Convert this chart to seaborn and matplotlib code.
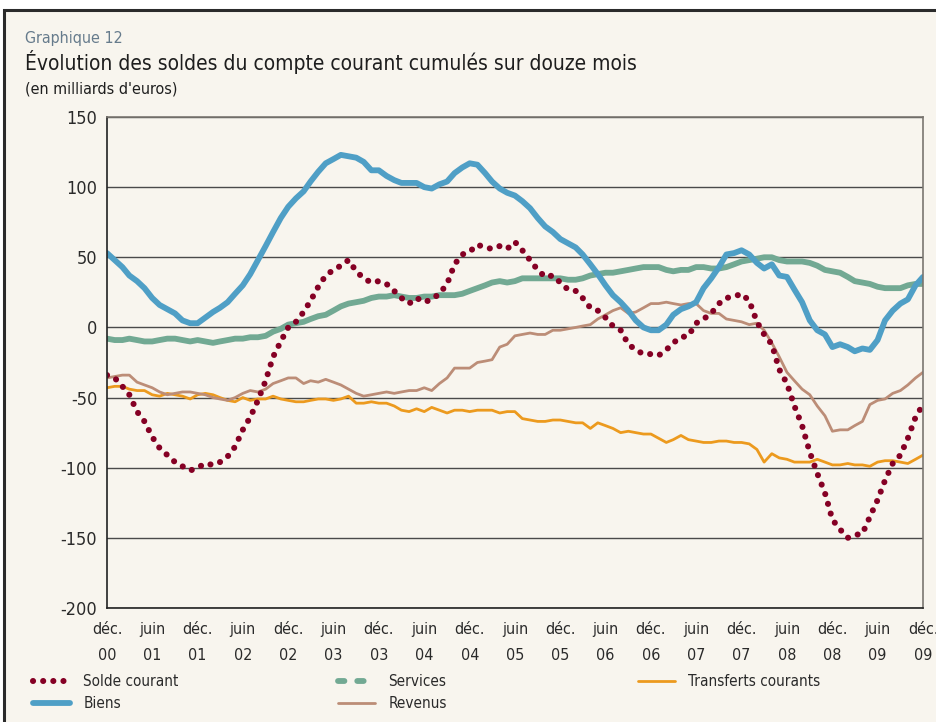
import numpy as np
import pandas as pd
import matplotlib
matplotlib.use('Agg')
import matplotlib.pyplot as plt
from matplotlib.lines import Line2D
from matplotlib.patches import Rectangle
import seaborn as sns

# monthly values, Dec 2000 -> Dec 2009 (billions of euros)
months = pd.date_range('2000-12-01', '2009-12-01', freq='MS')

solde_courant = [-34, -36, -42, -48, -60, -67, -78, -86, -91, -96,
                 -99, -102, -100, -97, -98, -96, -92, -85, -73, -64,
                 -52, -38, -21, -10, 0, 4, 11, 19, 29, 37,
                 41, 44, 48, 40, 35, 32, 33, 31, 26, 21,
                 17, 21, 18, 20, 24, 31, 45, 52, 54, 59,
                 57, 56, 58, 56, 61, 55, 48, 41, 36, 37,
                 32, 27, 26, 21, 14, 12, 7, 1, -2, -12,
                 -16, -19, -19, -20, -16, -11, -7, -6, 3, 6,
                 10, 17, 21, 22, 24, 19, 4, -5, -12, -30,
                 -40, -56, -70, -89, -104, -118, -137, -144, -150, -148,
                 -147, -135, -123, -109, -97, -91, -79, -64, -55]

biens = [53, 48, 43, 37, 33, 28, 21, 16, 13, 10,
         5, 3, 3, 7, 11, 14, 18, 24, 30, 38,
         48, 58, 68, 78, 86, 92, 97, 104, 111, 117,
         120, 123, 122, 121, 118, 112, 112, 108, 105, 103,
         103, 103, 100, 99, 102, 104, 110, 114, 117, 116,
         110, 104, 99, 96, 94, 90, 85, 78, 72, 68,
         63, 60, 57, 52, 45, 38, 30, 23, 18, 12,
         5, 0, -2, -2, 2, 9, 13, 15, 18, 28,
         35, 43, 52, 53, 55, 52, 46, 42, 45, 37,
         36, 27, 18, 5, -2, -5, -14, -12, -14, -17,
         -15, -16, -9, 5, 12, 17, 20, 30, 36]

services = [-8, -9, -9, -8, -9, -10, -10, -9, -8, -8,
            -9, -10, -9, -10, -11, -10, -9, -8, -8, -7,
            -7, -6, -3, -1, 2, 3, 4, 6, 8, 9,
            12, 15, 17, 18, 19, 21, 22, 22, 23, 22,
            21, 21, 22, 22, 23, 23, 23, 24, 26, 28,
            30, 32, 33, 32, 33, 35, 35, 35, 35, 35,
            35, 34, 34, 35, 37, 38, 39, 39, 40, 41,
            42, 43, 43, 43, 41, 40, 41, 41, 43, 43,
            42, 42, 43, 45, 47, 48, 49, 50, 50, 48,
            47, 47, 47, 46, 44, 41, 40, 39, 36, 33,
            32, 31, 29, 28, 28, 28, 30, 31, 31]

revenus = [-36, -35, -34, -34, -39, -41, -43, -46, -48, -47,
           -46, -46, -47, -48, -50, -51, -52, -50, -47, -45,
           -46, -44, -40, -38, -36, -36, -40, -38, -39, -37,
           -39, -41, -44, -47, -49, -48, -47, -46, -47, -46,
           -45, -45, -43, -45, -40, -36, -29, -29, -29, -25,
           -24, -23, -14, -12, -6, -5, -4, -5, -5, -2,
           -2, -1, 0, 1, 2, 6, 9, 12, 14, 10,
           11, 14, 17, 17, 18, 17, 16, 17, 17, 12,
           10, 10, 6, 5, 4, 2, 3, -2, -11, -21,
           -32, -38, -44, -48, -56, -63, -74, -73, -73, -70,
           -67, -55, -52, -51, -47, -45, -41, -36, -32]

transferts_courants = [-43, -42, -42, -44, -45, -45, -48, -49, -47, -48,
                       -49, -51, -48, -47, -48, -50, -52, -53, -50, -52,
                       -51, -51, -49, -51, -52, -53, -53, -52, -51, -51,
                       -52, -51, -49, -54, -54, -53, -54, -54, -56, -59,
                       -60, -58, -60, -57, -59, -61, -59, -59, -60, -59,
                       -59, -59, -61, -60, -60, -65, -66, -67, -67, -66,
                       -66, -67, -68, -68, -72, -68, -70, -72, -75, -74,
                       -75, -76, -76, -79, -82, -80, -77, -80, -81, -82,
                       -82, -81, -81, -82, -82, -83, -87, -96, -90, -93,
                       -94, -96, -96, -96, -94, -96, -98, -98, -97, -98,
                       -98, -99, -96, -95, -95, -96, -97, -94, -91]

tick_dates = pd.date_range('2000-12-01', '2009-12-01', freq='6MS')
tick_labels = ['déc.\n00', 'juin\n01', 'déc.\n01', 'juin\n02', 'déc.\n02', 'juin\n03',
               'déc.\n03', 'juin\n04', 'déc.\n04', 'juin\n05', 'déc.\n05', 'juin\n06',
               'déc.\n06', 'juin\n07', 'déc.\n07', 'juin\n08', 'déc.\n08', 'juin\n09',
               'déc.\n09']
y_ticks = [-200, -150, -100, -50, 0, 50, 100, 150]

df = pd.DataFrame({'date': months,
                   'Solde courant': solde_courant,
                   'Biens': biens,
                   'Services': services,
                   'Revenus': revenus,
                   'Transferts courants': transferts_courants})

sns.set_style('white')
plt.rcParams['font.family'] = ['DejaVu Sans']
plt.rcParams['font.stretch'] = 'condensed'

bg = '#F8F5EE'
c_solde = '#850024'
c_biens = '#4F9FC6'
c_serv = '#72A993'
c_rev = '#BC8D77'
c_transf = '#EC9A1E'

fig = plt.figure(figsize=(9.37, 7.22), dpi=100, facecolor='white')
fig.patches.append(Rectangle((4 / 937, -0.05), 1.2, 1 - 10 / 722 + 0.05,
                             transform=fig.transFigure, facecolor=bg,
                             edgecolor='#2b2b2b', lw=2.2, zorder=-5))

ax = fig.add_axes([107 / 937, 114 / 722, 816 / 937, 491 / 722])
ax.set_facecolor(bg)

# order of drawing: thin lines first, dotted balance on top
sns.lineplot(data=df, x='date', y='Transferts courants', color=c_transf, lw=2, ax=ax)
sns.lineplot(data=df, x='date', y='Revenus', color=c_rev, lw=2, ax=ax)
sns.lineplot(data=df, x='date', y='Services', color=c_serv, lw=4.2, ax=ax)
sns.lineplot(data=df, x='date', y='Biens', color=c_biens, lw=4.2, ax=ax)
sns.lineplot(data=df, x='date', y='Solde courant', color=c_solde, lw=4.4,
             linestyle=(0, (0.01, 1.65)), dash_capstyle='round', ax=ax)

ax.set_xlim(months[0], months[-1])
ax.set_ylim(-200, 150)
ax.set_yticks(y_ticks)
ax.set_yticklabels([str(v) for v in y_ticks])
ax.set_xticks(tick_dates)
ax.set_xticklabels(tick_labels, linespacing=1.9)
ax.set_xlabel('')
ax.set_ylabel('')

ax.yaxis.grid(True, color='#4a4a4a', lw=1)
ax.set_axisbelow(True)
for side in ['left', 'bottom']:
    ax.spines[side].set_color('#222222')
    ax.spines[side].set_linewidth(1.2)
for side in ['top', 'right']:
    ax.spines[side].set_color('#7a7670')
    ax.spines[side].set_linewidth(1.2)

ax.tick_params(axis='y', direction='out', length=5, width=1, color='#222222',
               labelsize=13, labelcolor='#2a2a2a', pad=2)
ax.tick_params(axis='x', direction='out', length=4, width=1, color='#222222',
               labelsize=11.5, labelcolor='#2a2a2a', pad=6)

fig.text(25 / 937, 1 - 38 / 722, 'Graphique 12', fontsize=11.5, color='#667b8c', va='center')
fig.text(25 / 937, 1 - 62 / 722, 'Évolution des soldes du compte courant cumulés sur douze mois',
         fontsize=15, color='#1e1e1e', va='center')
fig.text(25 / 937, 1 - 89 / 722, "(en milliards d'euros)", fontsize=11.5, color='#1e1e1e', va='center')

# legend in three blocks
h_solde = Line2D([0], [0], color=c_solde, lw=4.4, linestyle=(0, (0.01, 1.65)), dash_capstyle='round')
h_biens = Line2D([0], [0], color=c_biens, lw=4.2, solid_capstyle='round')
h_serv = Line2D([0], [0], color=c_serv, lw=4.2, linestyle=(0, (1.1, 2.2)), dash_capstyle='round')
h_rev = Line2D([0], [0], color=c_rev, lw=2)
h_transf = Line2D([0], [0], color=c_transf, lw=2)

leg_kw = dict(loc='upper left', frameon=False, fontsize=11, handlelength=2.4,
              handletextpad=0.9, labelspacing=0.45, borderaxespad=0, borderpad=0,
              labelcolor='#2a2a2a')
fig.legend([h_solde, h_biens], ['Solde courant', 'Biens'],
           bbox_to_anchor=(33 / 937, 1 - 674 / 722), **leg_kw)
fig.legend([h_serv, h_rev], ['Services', 'Revenus'],
           bbox_to_anchor=(338 / 937, 1 - 674 / 722), **leg_kw)
fig.legend([h_transf], ['Transferts courants'],
           bbox_to_anchor=(638 / 937, 1 - 674 / 722), **leg_kw)

plt.savefig('out.png', dpi=100, facecolor='white')
